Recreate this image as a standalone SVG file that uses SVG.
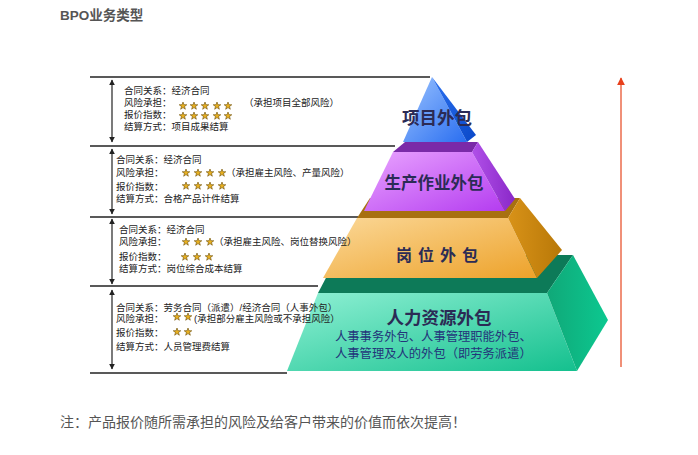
<svg xmlns="http://www.w3.org/2000/svg" width="698" height="455" viewBox="0 0 698 455">
<defs>
<style>
.t{font-family:"Liberation Sans","Noto Sans CJK SC",sans-serif;font-size:9.5px;fill:#222}
.hl{stroke:#222;stroke-width:1.3}
.va{stroke:#222;stroke-width:1.2;marker-start:url(#ah);marker-end:url(#ah)}
.lbl{font-family:"Noto Sans CJK SC","Liberation Sans",sans-serif;font-weight:bold;fill:#2b2b55;text-anchor:middle}
.sub{font-family:"Noto Sans CJK SC","Liberation Sans",sans-serif;font-size:12.3px;fill:#23357a}
</style>
<marker id="ah" viewBox="0 0 10 10" refX="9" refY="5" markerWidth="5" markerHeight="5" orient="auto-start-reverse"><path d="M0,0 L10,5 L0,10 Z" fill="#222"/></marker>
<marker id="rh" viewBox="0 0 10 10" refX="9" refY="5" markerWidth="4" markerHeight="4" orient="auto"><path d="M0,0 L10,5 L0,10 Z" fill="#e8401c"/></marker>
<path id="st" d="M0,-4 L0.94,-1.29 L3.8,-1.24 L1.52,0.49 L2.35,3.24 L0,1.6 L-2.35,3.24 L-1.52,0.49 L-3.8,-1.24 L-0.94,-1.29Z" fill="#e8b020" stroke="#6a4a00" stroke-width="0.6"/>
<linearGradient id="gBlue" x1="0" y1="0" x2="1" y2="1"><stop offset="0" stop-color="#9cc4ff"/><stop offset="1" stop-color="#2a6ef0"/></linearGradient>
<linearGradient id="gBlueS" x1="0" y1="0" x2="1" y2="1"><stop offset="0" stop-color="#2a70f0"/><stop offset="1" stop-color="#0a48c8"/></linearGradient>
<linearGradient id="gPur" x1="0" y1="0" x2="1" y2="1"><stop offset="0" stop-color="#e9a4ff"/><stop offset="1" stop-color="#b43cf0"/></linearGradient>
<linearGradient id="gPurS" x1="0" y1="0" x2="1" y2="0"><stop offset="0" stop-color="#b050e8"/><stop offset="1" stop-color="#8a28c8"/></linearGradient>
<linearGradient id="gOr" x1="0" y1="0" x2="1" y2="1"><stop offset="0" stop-color="#fbd898"/><stop offset="1" stop-color="#eda22a"/></linearGradient>
<linearGradient id="gOrS" x1="0" y1="0" x2="1" y2="0"><stop offset="0" stop-color="#d89218"/><stop offset="1" stop-color="#b87808"/></linearGradient>
<linearGradient id="gGr" x1="0" y1="0" x2="1" y2="1"><stop offset="0" stop-color="#8ff0d4"/><stop offset="1" stop-color="#14c08e"/></linearGradient>
<linearGradient id="gGrS" x1="0" y1="0" x2="1" y2="0"><stop offset="0" stop-color="#10a878"/><stop offset="1" stop-color="#0cc890"/></linearGradient>
</defs>
<rect width="698" height="455" fill="#ffffff"/>
<text x="60" y="20" style="font-family:'Liberation Sans','Noto Sans CJK SC',sans-serif;font-size:13.5px;font-weight:bold;fill:#555">BPO业务类型</text>

<g id="connectors">
<line class="hl" x1="90" y1="77" x2="430" y2="77"/>
<line class="hl" x1="90" y1="146" x2="395" y2="146"/>
<line class="hl" x1="90" y1="217" x2="358" y2="217"/>
<line class="hl" x1="90" y1="286" x2="318" y2="286"/>
<line class="hl" x1="90" y1="373" x2="287" y2="373"/>
<line class="va" x1="112" y1="80" x2="112" y2="142"/>
<line class="va" x1="112" y1="149" x2="112" y2="214"/>
<line class="va" x1="112" y1="219" x2="112" y2="284"/>
<line class="va" x1="112" y1="290" x2="112" y2="369"/>
<line x1="621" y1="367" x2="621" y2="78" stroke="#f09078" stroke-width="2" marker-end="url(#rh)"/>
</g>

<g id="tier-green">
<polygon points="338,255 573,255 547,293 318,293" fill="#0d7a58"/>
<polygon points="318,293 547,293 577,371 287,371" fill="url(#gGr)"/>
<polygon points="573,255 608,320 577,371 547,293" fill="url(#gGrS)"/>
<text class="lbl" x="439" y="324" font-size="17.5">人力资源外包</text>
<text class="sub" x="335" y="341">人事事务外包、人事管理职能外包、</text>
<text class="sub" x="335" y="358">人事管理及人的外包（即劳务派遣）</text>
</g>

<g id="tier-orange">
<polygon points="370,198 520,198 508,218 357,218" fill="#a87010"/>
<polygon points="357,218 508,218 537,278 323,278" fill="url(#gOr)"/>
<polygon points="520,198 562,250 537,278 508,218" fill="url(#gOrS)"/>
<text class="lbl" x="440" y="261" font-size="16" letter-spacing="6">岗位外包</text>
</g>

<g id="tier-purple">
<polygon points="405,142 478,142 472,152 393,152" fill="#7a2aa8"/>
<polygon points="393,152 472,152 505,211 364,211" fill="url(#gPur)"/>
<polygon points="478,142 515,199 505,211 472,152" fill="url(#gPurS)"/>
<text class="lbl" x="434" y="189" font-size="16.5">生产作业外包</text>
</g>

<g id="tier-blue">
<polygon points="432,77 403,142 467,142" fill="url(#gBlue)"/>
<polygon points="432,77 476,135 467,142" fill="url(#gBlueS)"/>
<text class="lbl" x="437" y="124" font-size="17.5">项目外包</text>
</g>

<g id="row1">
<text class="t" x="124" y="94">合同关系：经济合同</text>
<text class="t" x="124" y="106">风险承担：</text>
<text class="t" x="244" y="106">（承担项目全部风险）</text>
<text class="t" x="124" y="118">报价指数：</text>
<text class="t" x="124" y="130">结算方式：项目成果结算</text>
<use href="#st" x="183" y="106"/><use href="#st" x="194" y="106"/><use href="#st" x="205" y="106"/><use href="#st" x="217" y="106"/><use href="#st" x="228" y="106"/>
<use href="#st" x="183" y="116"/><use href="#st" x="194" y="116"/><use href="#st" x="205" y="116"/><use href="#st" x="217" y="116"/><use href="#st" x="228" y="116"/>
</g>

<g id="row2">
<text class="t" x="116" y="163">合同关系：经济合同</text>
<text class="t" x="116" y="176">风险承担：</text>
<text class="t" x="226" y="176">（承担雇主风险、产量风险）</text>
<text class="t" x="116" y="190">报价指数：</text>
<text class="t" x="116" y="202">结算方式：合格产品计件结算</text>
<use href="#st" x="186" y="173"/><use href="#st" x="198" y="173"/><use href="#st" x="210" y="173"/><use href="#st" x="222" y="173"/>
<use href="#st" x="186" y="186"/><use href="#st" x="198" y="186"/><use href="#st" x="210" y="186"/><use href="#st" x="222" y="186"/>
</g>

<g id="row3">
<text class="t" x="119" y="233">合同关系：经济合同</text>
<text class="t" x="119" y="245">风险承担：</text>
<text class="t" x="214" y="245">（承担雇主风险、岗位替换风险）</text>
<text class="t" x="119" y="260">报价指数：</text>
<text class="t" x="119" y="272">结算方式：岗位综合成本结算</text>
<use href="#st" x="186" y="242"/><use href="#st" x="198" y="242"/><use href="#st" x="210" y="242"/>
<use href="#st" x="185" y="257"/><use href="#st" x="197" y="257"/><use href="#st" x="209" y="257"/>
</g>

<g id="row4">
<text class="t" x="116" y="311">合同关系：劳务合同（派遣）/经济合同（人事外包）</text>
<text class="t" x="116" y="322">风险承担：</text>
<text class="t" x="194" y="322">(承担部分雇主风险或不承担风险）</text>
<text class="t" x="116" y="336">报价指数：</text>
<text class="t" x="116" y="350">结算方式：人员管理费结算</text>
<use href="#st" x="177" y="317"/><use href="#st" x="188" y="317"/>
<use href="#st" x="177" y="332"/><use href="#st" x="188" y="332"/>
</g>

<text x="60" y="427" style="font-family:'Liberation Sans','Noto Sans CJK SC',sans-serif;font-size:14px;fill:#555">注：产品报价随所需承担的风险及给客户带来的价值而依次提高！</text>
</svg>
